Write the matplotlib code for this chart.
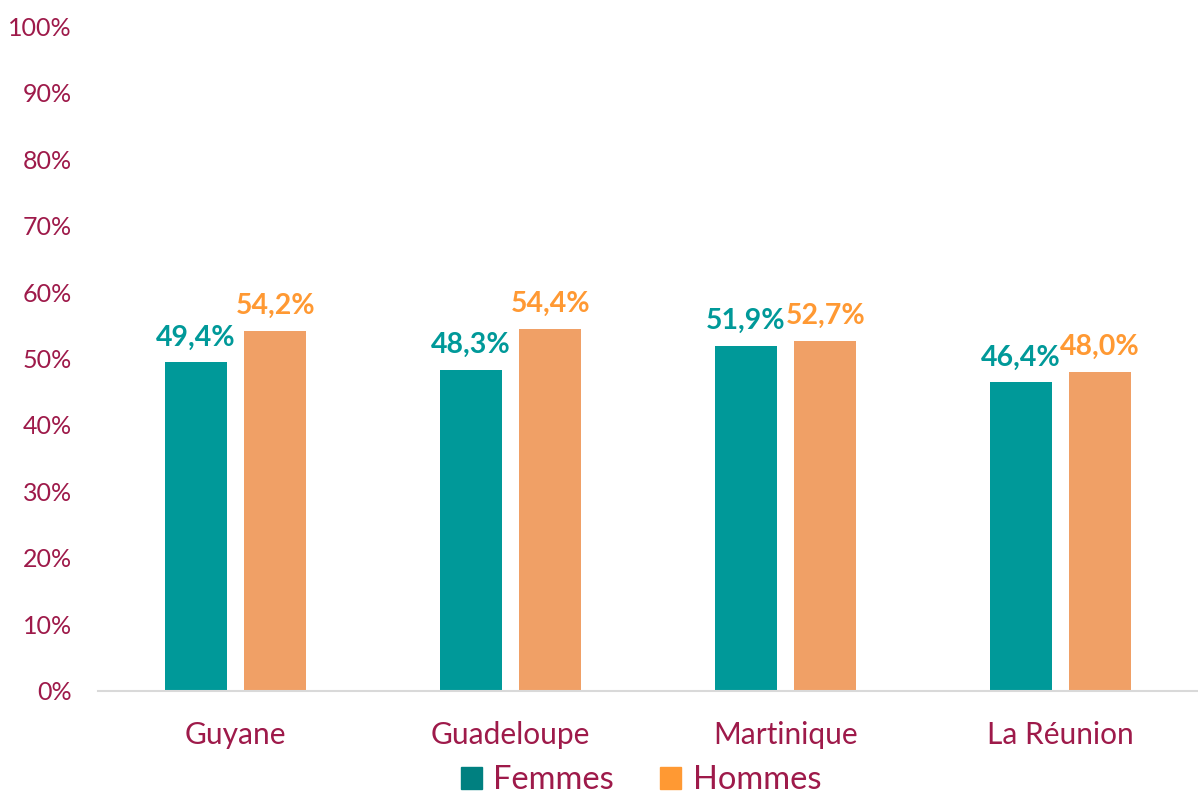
import numpy as np
import matplotlib
matplotlib.use('Agg')
from matplotlib import pyplot as plt
from matplotlib.patches import Patch

categories = ['Guyane', 'Guadeloupe', 'Martinique', 'La Réunion']
femmes = [49.4, 48.3, 51.9, 46.4]
hommes = [54.2, 54.4, 52.7, 48.0]
series_names = ['Femmes', 'Hommes']

text_col = '#9E1A4A'
teal = '#009999'
orange = '#F0A066'
orange_lbl = '#FF9933'

plt.rcParams['font.family'] = ['Lato', 'DejaVu Sans']

fig = plt.figure(figsize=(11.98, 7.94), dpi=100)
ax = fig.add_axes([0.082, 0.130, 0.918, 0.837])

x = np.arange(len(categories))
w = 0.225
off = 0.144
ax.bar(x - off, femmes, w, color=teal)
ax.bar(x + off, hommes, w, color=orange)

for xi, f, h in zip(x, femmes, hommes):
    ax.text(xi - off, f + 1.8, ('%.1f%%' % f).replace('.', ','), ha='center', va='bottom',
            color=teal, fontsize=20.5, fontweight='bold')
    ax.text(xi + off, h + 1.8, ('%.1f%%' % h).replace('.', ','), ha='center', va='bottom',
            color=orange_lbl, fontsize=20.5, fontweight='bold')

ax.set_xlim(-0.5, len(categories) - 0.5)
ax.set_ylim(0, 100)
ax.set_yticks(range(0, 101, 10))
ax.set_yticklabels(['%d%%' % v for v in range(0, 101, 10)])
ax.set_xticks(x)
ax.set_xticklabels(categories)
ax.tick_params(axis='y', length=0, labelsize=18, colors=text_col, pad=19)
ax.tick_params(axis='x', length=0, labelsize=21.5, colors=text_col, pad=22)
for s in ['top', 'right', 'left']:
    ax.spines[s].set_visible(False)
ax.spines['bottom'].set_color('#D9D9D9')
ax.spines['bottom'].set_linewidth(1.5)

handles = [Patch(color='#008080'), Patch(color='#FF9933')]
fig.legend(handles, series_names, loc='lower center', bbox_to_anchor=(0.535, -0.022),
           ncol=2, frameon=False, fontsize=23.5, labelcolor=text_col, borderpad=0,
           handlelength=0.65, handleheight=0.65, handletextpad=0.35, columnspacing=1.4)

fig.savefig('out.png', dpi=100)
